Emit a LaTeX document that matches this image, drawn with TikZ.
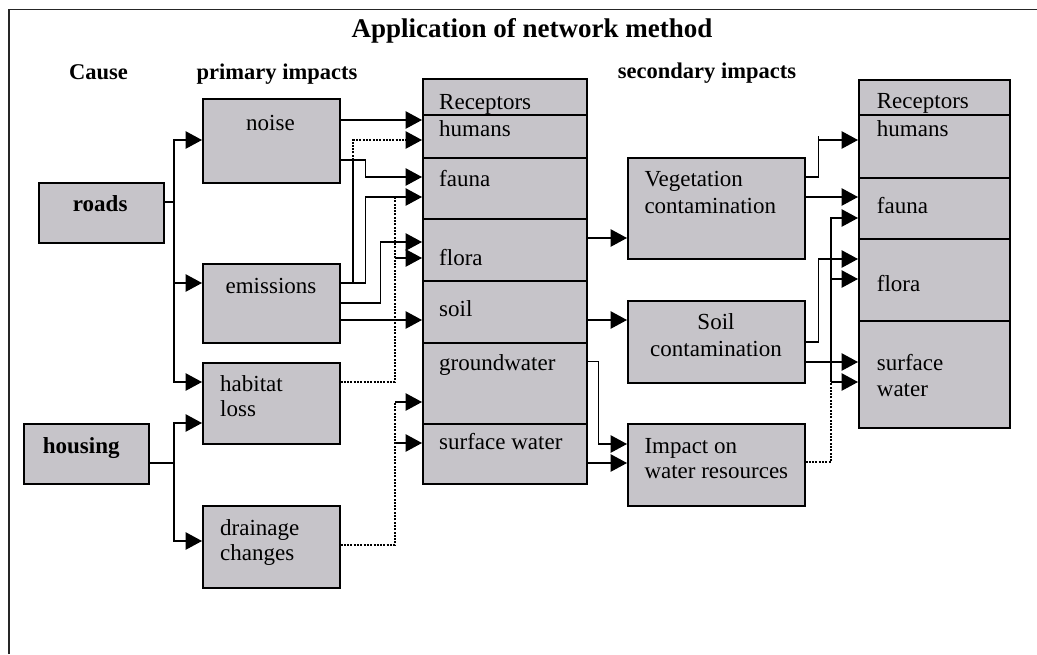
\documentclass[tikz,border=0pt]{standalone}
\usepackage{fontspec}
\setmainfont{Liberation Serif}
\usetikzlibrary{arrows.meta}
\definecolor{boxgray}{RGB}{198,196,201}
\begin{document}
\begin{tikzpicture}[x=1pt,y=-1pt,
  box/.style={draw, fill=boxgray, line width=1.5pt, inner sep=0, anchor=north west},
  lab/.style={anchor=base west, inner sep=0, font=\fontsize{23}{27}\selectfont},
  clab/.style={anchor=base, inner sep=0, font=\fontsize{23}{27}\selectfont},
  blab/.style={anchor=base, inner sep=0, font=\fontsize{23}{27}\selectfont\bfseries},
  head/.style={anchor=base, inner sep=0, font=\fontsize{22.5}{27}\selectfont\bfseries},
  conn/.style={line width=1.3pt},
  arr/.style={conn, -{Triangle[length=16.5pt,width=17.5pt]}},
  dotl/.style={line width=1.5pt, dash pattern=on 2pt off 1.3pt}]
\useasboundingbox (0,0) rectangle (1037,654);
% frame
\draw[line width=1.6pt, black!85] (9,654) -- (9,9.5) -- (1037,9.5);
% headings
\node[anchor=base, inner sep=0, font=\fontsize{27}{32}\selectfont\bfseries] (title) at (532,37) {Application of network method};
\node[head] (hcause) at (98.5,79.3) {Cause};
\node[head] (hprim) at (277,79.3) {primary impacts};
\node[head] (hsec) at (707,78.3) {secondary impacts};
% cause boxes
\node[box, minimum width=125pt, minimum height=60pt] (roads) at (38,182) {};
\node[blab] (roadsT) at (100.2,211.7) {roads};
\node[box, minimum width=125pt, minimum height=60pt] (housing) at (23,423) {};
\node[anchor=base west, inner sep=0, font=\fontsize{23}{27}\selectfont\bfseries] (housingT) at (42.7,453.3) {housing};
% primary impact boxes
\node[box, minimum width=137pt, minimum height=84pt] (noise) at (202,98) {};
\node[clab] (noiseT) at (270.5,130) {noise};
\node[box, minimum width=137pt, minimum height=79pt] (emis) at (202,263) {};
\node[clab] (emisT) at (271,293.3) {emissions};
\node[box, minimum width=137pt, minimum height=81pt] (habit) at (202,362) {};
\node[lab] (habitT1) at (220,391) {habitat};
\node[lab] (habitT2) at (220,416.7) {loss};
\node[box, minimum width=137pt, minimum height=82pt] (drain) at (202,505) {};
\node[lab] (drainT1) at (220,535) {drainage};
\node[lab] (drainT2) at (220,560) {changes};
% left receptors
\node[box, minimum width=164pt, minimum height=36pt] (rR) at (422,78) {};
\node[box, minimum width=164pt, minimum height=43pt] (rH) at (422,114) {};
\node[box, minimum width=164pt, minimum height=61pt] (rF) at (422,157) {};
\node[box, minimum width=164pt, minimum height=62pt] (rFl) at (422,218) {};
\node[box, minimum width=164pt, minimum height=62pt] (rS) at (422,280) {};
\node[box, minimum width=164pt, minimum height=81pt] (rG) at (422,342) {};
\node[box, minimum width=164pt, minimum height=60pt] (rW) at (422,423) {};
\node[lab] (rRT) at (439,109) {Receptors};
\node[lab] (rHT) at (439,136) {humans};
\node[lab] (rFT) at (439,186.7) {fauna};
\node[lab] (rFlT) at (439,265.7) {flora};
\node[lab] (rST) at (439,316.7) {soil};
\node[lab] (rGT) at (439,370) {groundwater};
\node[lab] (rWT) at (439,449.3) {surface water};
% secondary impact boxes
\node[box, minimum width=177pt, minimum height=101pt] (veg) at (627,157) {};
\node[lab] (vegT1) at (644.3,186) {Vegetation};
\node[lab] (vegT2) at (644.3,213.3) {contamination};
\node[box, minimum width=177pt, minimum height=82pt] (soilc) at (627,300) {};
\node[clab] (soilcT1) at (716,329.3) {Soil};
\node[clab] (soilcT2) at (716,356.7) {contamination};
\node[box, minimum width=177pt, minimum height=82pt] (impw) at (627,423) {};
\node[lab] (impwT1) at (644.3,453.3) {Impact on};
\node[lab] (impwT2) at (644.3,478.3) {water resources};
% right receptors
\node[box, minimum width=151pt, minimum height=35pt] (qR) at (858,79) {};
\node[box, minimum width=151pt, minimum height=63pt] (qH) at (858,114) {};
\node[box, minimum width=151pt, minimum height=61pt] (qF) at (858,177) {};
\node[box, minimum width=151pt, minimum height=82pt] (qFl) at (858,238) {};
\node[box, minimum width=151pt, minimum height=107pt] (qW) at (858,320) {};
\node[lab] (qRT) at (876.7,108.3) {Receptors};
\node[lab] (qHT) at (876.7,136) {humans};
\node[lab] (qFT) at (876.7,213.3) {fauna};
\node[lab] (qFlT) at (876.7,291) {flora};
\node[lab] (qWT1) at (876.7,370) {surface};
\node[lab] (qWT2) at (876.7,396.7) {water};
% cause -> primary
\coordinate (rj) at (174,202);
\coordinate (hj) at (174,463);
\draw[conn] (roads.east |- rj) -- (rj);
\draw[arr] (rj) |- (noise.west |- 0,140);
\draw[arr] (rj) |- (emis.west |- 0,283);
\draw[arr] (rj) |- (habit.west |- 0,382);
\draw[conn] (housing.east |- hj) -- (hj);
\draw[arr] (hj) |- (habit.west |- 0,423);
\draw[arr] (hj) |- (drain.west |- 0,541);
% primary -> receptors
\draw[arr] (noise.east |- 0,120) -- (rH.west |- 0,120);
\draw[arr] (noise.east |- 0,160) -- (365.5,160) -- (365.5,177) -- (rF.west |- 0,177);
\coordinate (ehj) at (353,160);
\draw[conn] (emis.east |- 0,283) -- (353,283) -- (ehj);
\draw[dotl] (ehj) -- (353,140) -- (405,140);
\draw[arr] (405,140) -- (rH.west |- 0,140);
\draw[arr] (emis.east |- 0,283) -- (365.5,283) -- (365.5,197) -- (rF.west |- 0,197);
\draw[arr] (emis.east |- 0,303) -| (380.5,242) -- (rFl.west |- 0,242);
\draw[arr] (emis.east |- 0,320) -- (rS.west |- 0,320);
\coordinate (hfl) at (395,258);
\draw[dotl] (habit.east |- 0,382) -| (395,197);
\draw[arr] (hfl) -- (rFl.west |- hfl);
\coordinate (dg) at (395,402);
\coordinate (dw) at (395,443);
\draw[dotl] (drain.east |- 0,545) -| (dg);
\draw[arr] (dg) -- (rG.west |- dg);
\draw[arr] (dw) -- (rW.west |- dw);
% receptors -> secondary
\draw[arr] (rFl.east |- 0,238) -- (veg.west |- 0,238);
\draw[arr] (rS.east |- 0,320) -- (soilc.west |- 0,320);
\draw[arr] (rG.east |- 0,361.5) -| (598.5,444) -- (impw.west |- 0,444);
\draw[arr] (rW.east |- 0,463) -- (impw.west |- 0,463);
% secondary -> right receptors
\draw[arr] (veg.east |- 0,177) -| (818.5,140) -- (qH.west |- 0,140);
\draw[conn] (818.5,140) -- (818.5,136);
\draw[arr] (veg.east |- 0,197) -- (qF.west |- 0,197);
\draw[arr] (soilc.east |- 0,342) -| (818.5,259) -- (qFl.west |- 0,259);
\draw[arr] (soilc.east |- 0,362) -- (qW.west |- 0,362);
\coordinate (ij) at (831,382);
\draw[dotl] (impw.east |- 0,462) -| (ij);
\draw[arr] (ij) -- (qW.west |- ij);
\draw[arr] (ij) |- (qF.west |- 0,218);
\draw[arr] (ij) |- (qFl.west |- 0,279);
\end{tikzpicture}
\end{document}
